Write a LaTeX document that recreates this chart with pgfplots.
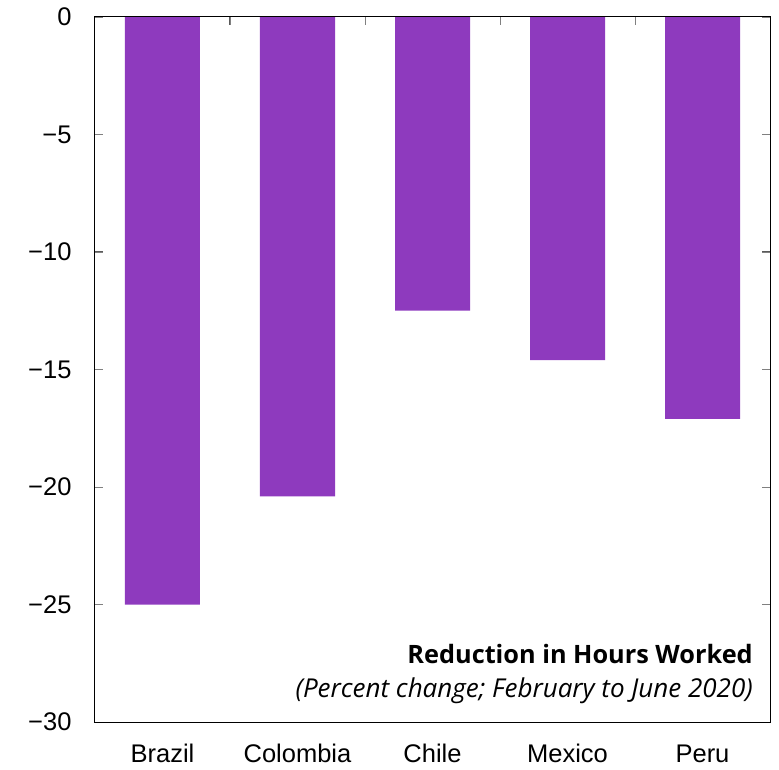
\documentclass[border=0pt]{standalone}
\usepackage{fontspec}
\setmainfont{Liberation Sans}
\newfontfamily\notefont{Open Sans}
\usepackage{pgfplots}
\pgfplotsset{compat=1.18}
\definecolor{barpurple}{RGB}{142,58,190}
\definecolor{tickgray}{RGB}{90,90,90}

\begin{document}
\begin{tikzpicture}
\begin{axis}[
    scale only axis,
    width=675pt, height=705pt,
    xmin=-0.5, xmax=4.5,
    ymin=-30, ymax=0,
    axis on top,
    axis line style={line width=1pt},
    tick align=inside,
    major tick length=8pt,
    ytick={-30,-25,-20,-15,-10,-5,0},
    yticklabels={−30,−25,−20,−15,−10,−5,0},
    ytick pos=both,
    % ticks sit between the bars; each label is moved back half a category
    xtick={0.5,1.5,2.5,3.5,4.5},
    xticklabels={Brazil,Colombia,Chile,Mexico,Peru},
    xtick pos=right,
    xticklabel pos=left,
    ticklabel style={font=\fontsize{25.5}{30}\selectfont},
    yticklabel style={xshift=-20pt},
    xticklabel style={anchor=base, yshift=-40pt, xshift=-67.5pt},
]
\coordinate (sw) at (rel axis cs:0,0);
\addplot[ybar, bar width=75pt, fill=barpurple, draw=none]
coordinates {
    (0,-25.0)
    (1,-20.4)
    (2,-12.5)
    (3,-14.6)
    (4,-17.1)
};
% short inside ticks on both sides and between the bars at the top
\pgfplotsinvokeforeach{-25,-20,-15,-10,-5}{
    \draw[tickgray, line width=1pt] (axis cs:-0.5,#1) -- ++(8pt,0pt);
    \draw[tickgray, line width=1pt] (axis cs:4.5,#1) -- ++(-8pt,0pt);
}
\pgfplotsinvokeforeach{0.5,1.5,2.5,3.5}{
    \draw[tickgray, line width=1pt] (axis cs:#1,0) -- ++(0pt,-8pt);
}
\node[anchor=base east, inner sep=0pt, font=\notefont\bfseries\fontsize{25.3}{30}\selectfont]
    at (axis cs:4.374,-27.49) {Reduction in Hours Worked};
\node[anchor=base east, inner sep=0pt, font=\notefont\itshape\fontsize{26}{30}\selectfont]
    at (axis cs:4.374,-28.94) {(Percent change; February to June 2020)};
\end{axis}
\pgfresetboundingbox
\path[use as bounding box] (sw) ++(-95pt,-47pt) rectangle ++(779pt,769pt);
\end{tikzpicture}
\end{document}
